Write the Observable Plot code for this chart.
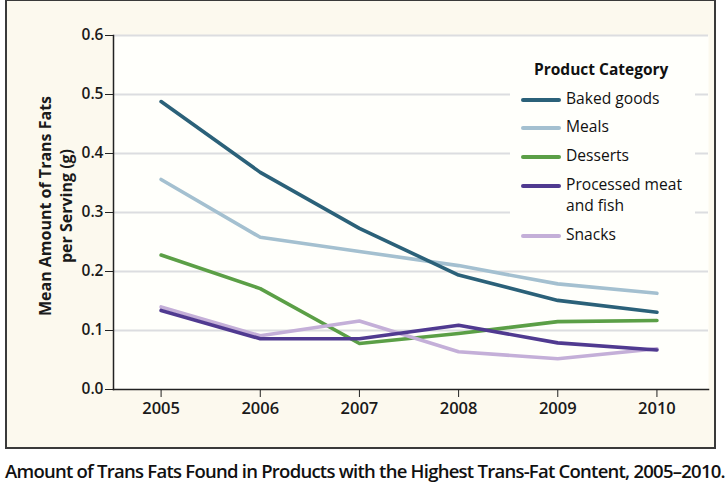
<!DOCTYPE html>
<html>
<head>
<meta charset="utf-8">
<script src="https://cdn.jsdelivr.net/npm/d3@7"></script>
<script src="https://cdn.jsdelivr.net/npm/@observablehq/plot@0.6"></script>
<style>
  html, body { margin: 0; padding: 0; background: #ffffff; }
  body { width: 728px; height: 498px; position: relative; overflow: hidden; font-family: "Open Sans", Lato, sans-serif; }
  #panel { position: absolute; left: 5px; top: -1px; width: 707px; height: 446px; border: 2px solid #3a3a3a; background: #fcf9ee; box-sizing: content-box; }
  #chart { position: absolute; left: 0; top: 0; }
  #ylabel { position: absolute; left: 56px; top: 206px; transform: translate(-50%, -50%) rotate(-90deg); white-space: nowrap; text-align: center; font-weight: 700; font-size: 16px; line-height: 21px; color: #1a1a1a; letter-spacing: 0px; }
  #legend { position: absolute; left: 510px; top: 55px; width: 185px; height: 196px; background: #fffffb; }
  #legend .title { position: absolute; left: 24px; top: 3px; font-weight: 700; font-size: 15.5px; color: #111; letter-spacing: 0px; }
  #legend .item { position: absolute; left: 11px; font-size: 15.6px; color: #111; line-height: 21px; }
  #legend .sw { position: absolute; left: 0; top: 10px; width: 40px; height: 4px; border-radius: 2px; }
  #legend .lab { position: absolute; left: 45px; top: 0; white-space: nowrap; letter-spacing: 0px; }
  #caption { position: absolute; left: 5px; top: 458px; font-weight: 600; font-size: 18.5px; color: #111; white-space: nowrap; letter-spacing: -0.75px; }
</style>
</head>
<body>
<div id="panel"></div>
<div id="chart"></div>
<div id="ylabel">Mean Amount of Trans Fats<br>per Serving (g)</div>
<div id="legend"></div>
<div id="caption">Amount of Trans Fats Found in Products with the Highest Trans-Fat Content, 2005–2010.</div>
<script>
const years = [2005, 2006, 2007, 2008, 2009, 2010];
const categories = ["Baked goods", "Meals", "Desserts", "Processed meat and fish", "Snacks"];
const legendLabels = ["Baked goods", "Meals", "Desserts", "Processed meat<br>and fish", "Snacks"];
const colors = ["#2b6179", "#a4c0d0", "#5b9f46", "#503a90", "#c4afd8"];
const bakedGoods = [0.488, 0.368, 0.273, 0.194, 0.151, 0.131];
const meals = [0.356, 0.258, 0.234, 0.210, 0.179, 0.163];
const desserts = [0.228, 0.171, 0.078, 0.095, 0.115, 0.117];
const processedMeat = [0.134, 0.086, 0.086, 0.109, 0.079, 0.067];
const snacks = [0.140, 0.091, 0.116, 0.064, 0.052, 0.069];
const yTicks = [0, 0.1, 0.2, 0.3, 0.4, 0.5, 0.6];
const gridTicks = [0.1, 0.2, 0.3, 0.4, 0.5, 0.6];

const seriesValues = [bakedGoods, meals, desserts, processedMeat, snacks];
const data = [];
categories.forEach((c, i) => years.forEach((y, j) => data.push({category: c, year: y, value: seriesValues[i][j]})));
const drawOrder = ["Meals", "Baked goods", "Desserts", "Snacks", "Processed meat and fish"];

const plot = Plot.plot({
  width: 728,
  height: 447,
  marginLeft: 113,
  marginRight: 20,
  marginTop: 35,
  marginBottom: 58,
  style: {background: "transparent", fontFamily: "'Open Sans', sans-serif", fontSize: "14px", color: "#1a1a1a"},
  x: {domain: [2004.52, 2010.52], label: null},
  y: {domain: [0, 0.6], label: null},
  marks: [
    Plot.frame({fill: "#fffffb", stroke: null}),
    Plot.ruleY(gridTicks, {stroke: "#dcdde0", strokeWidth: 2}),
    ...drawOrder.map(c => Plot.line(data.filter(d => d.category === c), {x: "year", y: "value", stroke: colors[categories.indexOf(c)], strokeWidth: 3.6, strokeLinejoin: "round", strokeLinecap: "round"})),
    Plot.axisY({ticks: yTicks, tickFormat: d3.format(".1f"), tickSize: 8, tickPadding: 2, stroke: "#222", fontWeight: 600, fontSize: 15.5, letterSpacing: -0.5, label: null}),
    Plot.axisX({ticks: years, tickFormat: d => String(d), tickSize: 8, tickPadding: 5, stroke: "#222", fontWeight: 600, fontSize: 16.5, letterSpacing: -0.6, label: null}),
    Plot.frame({anchor: "left", stroke: "#222", strokeWidth: 1.5}),
    Plot.frame({anchor: "bottom", stroke: "#222", strokeWidth: 1.5})
  ]
});
document.getElementById("chart").appendChild(plot);

const legend = document.getElementById("legend");
legend.innerHTML = '<div class="title">Product Category</div>';
const tops = [33, 61, 90, 119, 169];
categories.forEach((c, i) => {
  const it = document.createElement("div");
  it.className = "item";
  it.style.top = tops[i] + "px";
  it.innerHTML = `<div class="sw" style="background:${colors[i]}"></div><div class="lab">${legendLabels[i]}</div>`;
  legend.appendChild(it);
});
</script>
</body>
</html>
